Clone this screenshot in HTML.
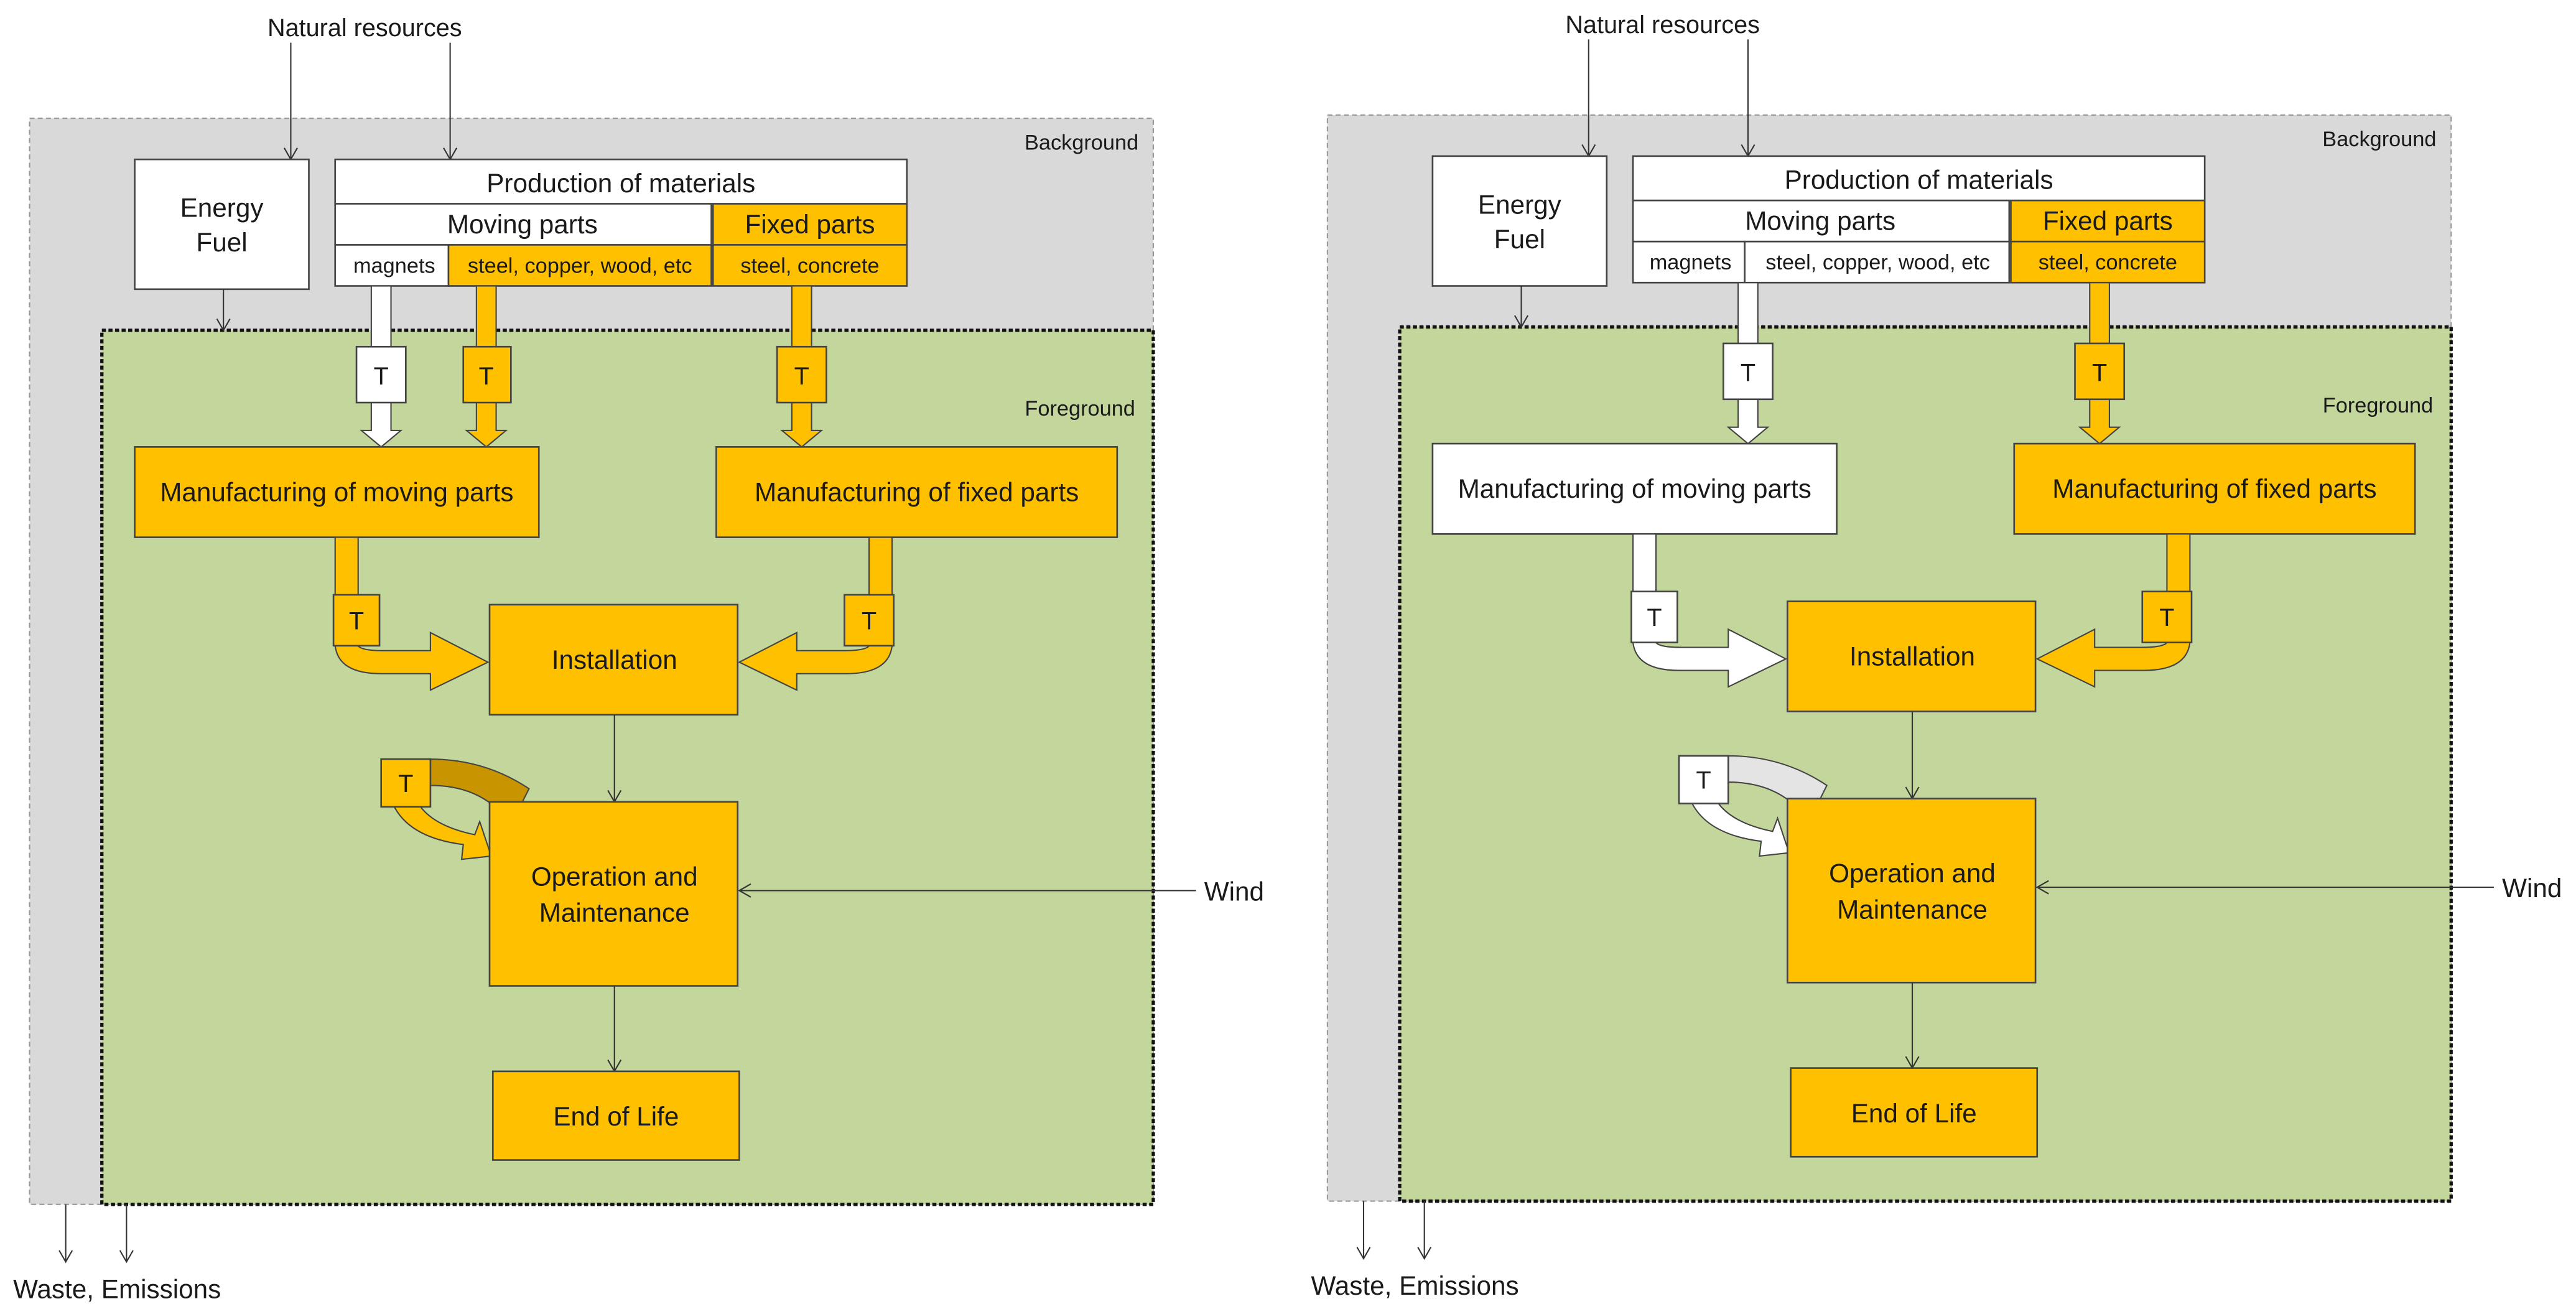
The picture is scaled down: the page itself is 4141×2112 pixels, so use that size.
<!DOCTYPE html>
<html><head><meta charset="utf-8"><style>
html,body{margin:0;padding:0;background:#fff;}
svg{display:block;}
text{font-family:"Liberation Sans Narrow","Liberation Sans",sans-serif;fill:#1a1a1a;}
</style></head><body>
<svg width="4141" height="2112" viewBox="0 0 1568 799.7" xmlns="http://www.w3.org/2000/svg">
<defs>
<marker id="ah" markerWidth="10" markerHeight="10" refX="8" refY="5" orient="auto" markerUnits="userSpaceOnUse">
<path d="M1,1 L8,5 L1,9" fill="none" stroke="#333" stroke-width="0.8"/>
</marker>
</defs>

<!-- ============ LEFT DIAGRAM ============ -->
<g stroke-linejoin="miter">
<text x="222" y="22" font-size="15" text-anchor="middle">Natural resources</text>
<rect x="18" y="72" width="684" height="661" fill="#d9d9d9" stroke="#999" stroke-width="0.8" stroke-dasharray="3,2"/>
<line x1="177" y1="26" x2="177" y2="97" stroke="#333" stroke-width="0.8" marker-end="url(#ah)"/>
<line x1="274" y1="26" x2="274" y2="97" stroke="#333" stroke-width="0.8" marker-end="url(#ah)"/>
<text x="693" y="91" font-size="13" text-anchor="end">Background</text>
<rect x="62" y="201" width="640" height="532" fill="#c3d69b" stroke="#111" stroke-width="2" stroke-dasharray="2.5,1.5"/>
<text x="691" y="253" font-size="13" text-anchor="end">Foreground</text>

<rect x="82" y="97" width="106" height="79" fill="#fff" stroke="#444" stroke-width="1"/>
<text x="135" y="132" font-size="16" text-anchor="middle">Energy</text>
<text x="135" y="153" font-size="16" text-anchor="middle">Fuel</text>
<line x1="136" y1="176" x2="136" y2="201" stroke="#333" stroke-width="0.8" marker-end="url(#ah)"/>

<rect x="204" y="97" width="348" height="27" fill="#fff" stroke="#444" stroke-width="1"/>
<text x="378" y="117" font-size="16" text-anchor="middle">Production of materials</text>
<rect x="204" y="124" width="229" height="25" fill="#fff" stroke="#444" stroke-width="1"/>
<text x="318" y="142" font-size="16" text-anchor="middle">Moving parts</text>
<rect x="434" y="124" width="118" height="25" fill="#ffc000" stroke="#444" stroke-width="1"/>
<text x="493" y="142" font-size="16" text-anchor="middle">Fixed parts</text>
<rect x="204" y="149" width="69" height="25" fill="#fff" stroke="#444" stroke-width="1"/>
<text x="240" y="166" font-size="13" text-anchor="middle">magnets</text>
<rect x="273" y="149" width="160" height="25" fill="#ffc000" stroke="#444" stroke-width="1"/>
<text x="353" y="166" font-size="13" text-anchor="middle">steel, copper, wood, etc</text>
<rect x="434" y="149" width="118" height="25" fill="#ffc000" stroke="#444" stroke-width="1"/>
<text x="493" y="166" font-size="13" text-anchor="middle">steel, concrete</text>

<path d="M226,174 V262 H220 L232,272 L244,262 H238 V174 Z" fill="#fff" stroke="#444" stroke-width="0.8"/>
<rect x="217" y="211" width="30" height="34" fill="#fff" stroke="#444" stroke-width="1"/>
<text x="232" y="234" font-size="15" text-anchor="middle">T</text>
<path d="M290,174 V262 H284 L296,272 L308,262 H302 V174 Z" fill="#ffc000" stroke="#444" stroke-width="0.8"/>
<rect x="282" y="211" width="29" height="34" fill="#ffc000" stroke="#444" stroke-width="1"/>
<text x="296" y="234" font-size="15" text-anchor="middle">T</text>
<path d="M482,174 V262 H476 L488,272 L500,262 H494 V174 Z" fill="#ffc000" stroke="#444" stroke-width="0.8"/>
<rect x="473" y="211" width="30" height="34" fill="#ffc000" stroke="#444" stroke-width="1"/>
<text x="488" y="234" font-size="15" text-anchor="middle">T</text>

<rect x="82" y="272" width="246" height="55" fill="#ffc000" stroke="#444" stroke-width="1"/>
<text x="205" y="305" font-size="16" text-anchor="middle">Manufacturing of moving parts</text>
<rect x="436" y="272" width="244" height="55" fill="#ffc000" stroke="#444" stroke-width="1"/>
<text x="558" y="305" font-size="16" text-anchor="middle">Manufacturing of fixed parts</text>

<path d="M204,327 V393 Q206,410 232,410 L262,410 L262,420 L297,403 L262,385 L262,396 L234,396 Q220,396 218,393 V327 Z" fill="#ffc000" stroke="#444" stroke-width="0.8"/>
<rect x="203" y="362" width="28" height="31" fill="#ffc000" stroke="#444" stroke-width="1"/>
<text x="217" y="383" font-size="15" text-anchor="middle">T</text>
<path d="M543,327 V393 Q541,410 515,410 L485,410 L485,420 L450,403 L485,385 L485,396 L513,396 Q527,396 529,393 V327 Z" fill="#ffc000" stroke="#444" stroke-width="0.8"/>
<rect x="514" y="362" width="30" height="31" fill="#ffc000" stroke="#444" stroke-width="1"/>
<text x="529" y="383" font-size="15" text-anchor="middle">T</text>

<rect x="298" y="368" width="151" height="67" fill="#ffc000" stroke="#444" stroke-width="1"/>
<text x="374" y="407" font-size="16" text-anchor="middle">Installation</text>
<line x1="374" y1="435" x2="374" y2="488" stroke="#333" stroke-width="0.8" marker-end="url(#ah)"/>

<path d="M262,462 Q295,462 322,480 L317,490 L300,490 Q285,478 262,478 Z" fill="#c89500" stroke="#444" stroke-width="0.8"/>
<path d="M240,491 Q250,510 282,514 L281,523 L299,521 L292,500 L289,508 Q265,503 256,491 Z" fill="#ffc000" stroke="#444" stroke-width="0.8"/>
<rect x="298" y="488" width="151" height="112" fill="#ffc000" stroke="#444" stroke-width="1"/>
<rect x="232" y="462" width="30" height="29" fill="#ffc000" stroke="#444" stroke-width="1"/>
<text x="247" y="482" font-size="15" text-anchor="middle">T</text>
<text x="374" y="539" font-size="16" text-anchor="middle">Operation and</text>
<text x="374" y="561" font-size="16" text-anchor="middle">Maintenance</text>
<line x1="728" y1="542" x2="450" y2="542" stroke="#333" stroke-width="0.8" marker-end="url(#ah)"/>
<text x="733" y="548" font-size="16">Wind</text>
<line x1="374" y1="600" x2="374" y2="652" stroke="#333" stroke-width="0.8" marker-end="url(#ah)"/>
<rect x="300" y="652" width="150" height="54" fill="#ffc000" stroke="#444" stroke-width="1"/>
<text x="375" y="685" font-size="16" text-anchor="middle">End of Life</text>

<line x1="40" y1="733" x2="40" y2="768" stroke="#333" stroke-width="0.8" marker-end="url(#ah)"/>
<line x1="77" y1="733" x2="77" y2="768" stroke="#333" stroke-width="0.8" marker-end="url(#ah)"/>
<text x="8" y="790" font-size="16">Waste, Emissions</text>
</g>

<!-- ============ RIGHT DIAGRAM ============ -->
<g transform="translate(790,-2)">
<text x="222" y="22" font-size="15" text-anchor="middle">Natural resources</text>
<rect x="18" y="72" width="684" height="661" fill="#d9d9d9" stroke="#999" stroke-width="0.8" stroke-dasharray="3,2"/>
<line x1="177" y1="26" x2="177" y2="97" stroke="#333" stroke-width="0.8" marker-end="url(#ah)"/>
<line x1="274" y1="26" x2="274" y2="97" stroke="#333" stroke-width="0.8" marker-end="url(#ah)"/>
<text x="693" y="91" font-size="13" text-anchor="end">Background</text>
<rect x="62" y="201" width="640" height="532" fill="#c3d69b" stroke="#111" stroke-width="2" stroke-dasharray="2.5,1.5"/>
<text x="691" y="253" font-size="13" text-anchor="end">Foreground</text>

<rect x="82" y="97" width="106" height="79" fill="#fff" stroke="#444" stroke-width="1"/>
<text x="135" y="132" font-size="16" text-anchor="middle">Energy</text>
<text x="135" y="153" font-size="16" text-anchor="middle">Fuel</text>
<line x1="136" y1="176" x2="136" y2="201" stroke="#333" stroke-width="0.8" marker-end="url(#ah)"/>

<rect x="204" y="97" width="348" height="27" fill="#fff" stroke="#444" stroke-width="1"/>
<text x="378" y="117" font-size="16" text-anchor="middle">Production of materials</text>
<rect x="204" y="124" width="229" height="25" fill="#fff" stroke="#444" stroke-width="1"/>
<text x="318" y="142" font-size="16" text-anchor="middle">Moving parts</text>
<rect x="434" y="124" width="118" height="25" fill="#ffc000" stroke="#444" stroke-width="1"/>
<text x="493" y="142" font-size="16" text-anchor="middle">Fixed parts</text>
<rect x="204" y="149" width="68" height="25" fill="#fff" stroke="#444" stroke-width="1"/>
<text x="239" y="166" font-size="13" text-anchor="middle">magnets</text>
<rect x="272" y="149" width="161" height="25" fill="#fff" stroke="#444" stroke-width="1"/>
<text x="353" y="166" font-size="13" text-anchor="middle">steel, copper, wood, etc</text>
<rect x="434" y="149" width="118" height="25" fill="#ffc000" stroke="#444" stroke-width="1"/>
<text x="493" y="166" font-size="13" text-anchor="middle">steel, concrete</text>

<path d="M268,174 V262 H262 L274,272 L286,262 H280 V174 Z" fill="#fff" stroke="#444" stroke-width="0.8"/>
<rect x="259" y="211" width="30" height="34" fill="#fff" stroke="#444" stroke-width="1"/>
<text x="274" y="234" font-size="15" text-anchor="middle">T</text>
<path d="M482,174 V262 H476 L488,272 L500,262 H494 V174 Z" fill="#ffc000" stroke="#444" stroke-width="0.8"/>
<rect x="473" y="211" width="30" height="34" fill="#ffc000" stroke="#444" stroke-width="1"/>
<text x="488" y="234" font-size="15" text-anchor="middle">T</text>

<rect x="82" y="272" width="246" height="55" fill="#fff" stroke="#444" stroke-width="1"/>
<text x="205" y="305" font-size="16" text-anchor="middle">Manufacturing of moving parts</text>
<rect x="436" y="272" width="244" height="55" fill="#ffc000" stroke="#444" stroke-width="1"/>
<text x="558" y="305" font-size="16" text-anchor="middle">Manufacturing of fixed parts</text>

<path d="M204,327 V393 Q206,410 232,410 L262,410 L262,420 L297,403 L262,385 L262,396 L234,396 Q220,396 218,393 V327 Z" fill="#fff" stroke="#444" stroke-width="0.8"/>
<rect x="203" y="362" width="28" height="31" fill="#fff" stroke="#444" stroke-width="1"/>
<text x="217" y="383" font-size="15" text-anchor="middle">T</text>
<path d="M543,327 V393 Q541,410 515,410 L485,410 L485,420 L450,403 L485,385 L485,396 L513,396 Q527,396 529,393 V327 Z" fill="#ffc000" stroke="#444" stroke-width="0.8"/>
<rect x="514" y="362" width="30" height="31" fill="#ffc000" stroke="#444" stroke-width="1"/>
<text x="529" y="383" font-size="15" text-anchor="middle">T</text>

<rect x="298" y="368" width="151" height="67" fill="#ffc000" stroke="#444" stroke-width="1"/>
<text x="374" y="407" font-size="16" text-anchor="middle">Installation</text>
<line x1="374" y1="435" x2="374" y2="488" stroke="#333" stroke-width="0.8" marker-end="url(#ah)"/>

<path d="M262,462 Q295,462 322,480 L317,490 L300,490 Q285,478 262,478 Z" fill="#e4e4e4" stroke="#444" stroke-width="0.8"/>
<path d="M240,491 Q250,510 282,514 L281,523 L299,521 L292,500 L289,508 Q265,503 256,491 Z" fill="#fff" stroke="#444" stroke-width="0.8"/>
<rect x="298" y="488" width="151" height="112" fill="#ffc000" stroke="#444" stroke-width="1"/>
<rect x="232" y="462" width="30" height="29" fill="#fff" stroke="#444" stroke-width="1"/>
<text x="247" y="482" font-size="15" text-anchor="middle">T</text>
<text x="374" y="539" font-size="16" text-anchor="middle">Operation and</text>
<text x="374" y="561" font-size="16" text-anchor="middle">Maintenance</text>
<line x1="728" y1="542" x2="450" y2="542" stroke="#333" stroke-width="0.8" marker-end="url(#ah)"/>
<text x="733" y="548" font-size="16">Wind</text>
<line x1="374" y1="600" x2="374" y2="652" stroke="#333" stroke-width="0.8" marker-end="url(#ah)"/>
<rect x="300" y="652" width="150" height="54" fill="#ffc000" stroke="#444" stroke-width="1"/>
<text x="375" y="685" font-size="16" text-anchor="middle">End of Life</text>

<line x1="40" y1="733" x2="40" y2="768" stroke="#333" stroke-width="0.8" marker-end="url(#ah)"/>
<line x1="77" y1="733" x2="77" y2="768" stroke="#333" stroke-width="0.8" marker-end="url(#ah)"/>
<text x="8" y="790" font-size="16">Waste, Emissions</text>
</g>
</svg>
</body></html>
